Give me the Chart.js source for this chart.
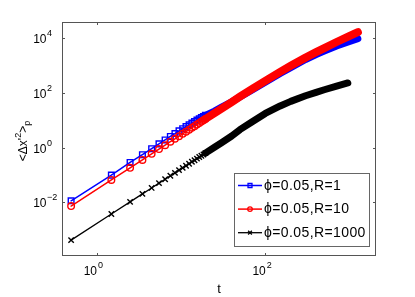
<!DOCTYPE html>
<html>
<head>
<meta charset="utf-8">
<script src="https://cdn.jsdelivr.net/npm/chart.js@4.4.1/dist/chart.umd.min.js"></script>
<style>
  html, body { margin: 0; padding: 0; background: #fff; }
  #wrap { width: 415px; height: 297px; position: relative; }
</style>
</head>
<body>
<div id="wrap"><canvas id="msd-chart"></canvas></div>
<script>
// time values (shared by R=1 and R=10), and the R=1000 run which stops earlier
const tTimes = [0.5, 1.5, 2.5, 3.5, 4.5, 5.5, 6.5, 7.5, 8.5, 9.5,
    10.5, 11.5, 12.5, 13.5, 14.5, 15.5, 16.5, 17.5, 18.5, 19.5,
    25, 30, 40, 50, 70, 100, 150, 200, 300, 400, 500, 700, 1000, 1250];
const tTimesBlack = [0.5, 1.5, 2.5, 3.5, 4.5, 5.5, 6.5, 7.5, 8.5, 9.5,
    10.5, 11.5, 12.5, 13.5, 14.5, 15.5, 16.5, 17.5, 18.5, 19.5,
    25, 30, 40, 50, 70, 100, 150, 200, 300, 400, 500, 700, 950];

const msdR1 = [0.0115, 0.10, 0.29, 0.56, 0.93, 1.39, 1.94, 2.59, 3.32, 4.15,
    5.0, 5.95, 6.95, 8.0, 9.1, 10.3, 11.5, 12.7, 14.0, 15.4,
    22, 30, 48, 72, 130, 250, 525, 860, 1700, 2580, 3450, 5290, 7800, 9800];
const msdR10 = [0.0074, 0.067, 0.185, 0.36, 0.6, 0.9, 1.25, 1.67, 2.14, 2.67,
    3.26, 3.9, 4.6, 5.4, 6.2, 7.1, 8.1, 9.1, 10.1, 11.3,
    18.5, 26.5, 47, 74, 143, 283, 600, 1000, 1990, 3150, 4450, 7400, 12400, 17000];
const msdR1000 = [0.00042, 0.0038, 0.0105, 0.0206, 0.034, 0.051, 0.071, 0.095, 0.121, 0.152,
    0.185, 0.22, 0.26, 0.31, 0.35, 0.40, 0.46, 0.51, 0.57, 0.64,
    1.05, 1.5, 2.7, 4.6, 9, 18, 34, 50, 80, 107, 133, 180, 235];

const seriesLabels = ['\u03d5=0.05,R=1', '\u03d5=0.05,R=10', '\u03d5=0.05,R=1000'];
const xTicks = [1, 100];
const yTicks = [1e-2, 1, 1e2, 1e4];

const FONT = '"Liberation Sans", Arial, Helvetica, sans-serif';

function toPoints(ts, ys) {
    return ts.map((t, i) => ({x: t, y: ys[i]}));
}

// thin line with markers while the points are sparse, thick band once they pile up
function makeSet(label, ts, ys, color, style, radius, lineW, bandW, order) {
    return {
        label: label,
        data: toPoints(ts, ys),
        borderColor: color,
        backgroundColor: color,
        borderWidth: lineW,
        borderCapStyle: 'round',
        borderJoinStyle: 'round',
        pointStyle: style,
        pointRadius: c => ts[c.dataIndex] > 20 ? 0 : radius,
        pointBorderWidth: 1.4,
        pointBorderColor: color,
        pointBackgroundColor: 'rgba(0,0,0,0)',
        segment: {
            borderWidth: c => c.p0.parsed.x >= 19 ? bandW : lineW
        },
        order: order,
        legendRadius: radius * 0.7,
        legendLine: lineW
    };
}

function expText(v) {
    const e = Math.round(Math.log10(v));
    return e < 0 ? '\u2212' + (-e) : String(e);
}

const matlabFrame = {
    id: 'matlabFrame',
    afterDatasetsDraw(chart) {
        const ctx = chart.ctx;
        const a = chart.chartArea;
        const xs = chart.scales.x, ys = chart.scales.y;
        ctx.save();

        // box
        ctx.strokeStyle = '#555';
        ctx.lineWidth = 1;
        ctx.strokeRect(a.left + 0.5, a.top + 0.5, a.right - a.left - 1, a.bottom - a.top - 1);

        // ticks, inward on all four sides
        ctx.beginPath();
        xTicks.forEach(v => {
            const px = Math.round(xs.getPixelForValue(v)) + 0.5;
            ctx.moveTo(px, a.bottom); ctx.lineTo(px, a.bottom - 3);
            ctx.moveTo(px, a.top); ctx.lineTo(px, a.top + 3);
        });
        yTicks.forEach(v => {
            const py = Math.round(ys.getPixelForValue(v)) + 0.5;
            ctx.moveTo(a.left, py); ctx.lineTo(a.left + 3, py);
            ctx.moveTo(a.right, py); ctx.lineTo(a.right - 3, py);
        });
        ctx.stroke();

        // tick labels 10^n
        ctx.fillStyle = '#000';
        ctx.textBaseline = 'alphabetic';
        xTicks.forEach(v => {
            const px = xs.getPixelForValue(v);
            ctx.font = '12px ' + FONT;
            ctx.textAlign = 'right';
            ctx.fillText('10', px + 0.5, a.bottom + 19);
            ctx.font = '9px ' + FONT;
            ctx.textAlign = 'left';
            ctx.fillText(expText(v), px + 1.5, a.bottom + 12);
        });
        yTicks.forEach(v => {
            const py = ys.getPixelForValue(v);
            ctx.font = '12px ' + FONT;
            ctx.textAlign = 'right';
            ctx.fillText('10', 46.5, py + 5);
            ctx.font = '9px ' + FONT;
            ctx.textAlign = 'left';
            ctx.fillText(expText(v), 47, py - 2);
        });

        // x title
        ctx.font = '13px ' + FONT;
        ctx.textAlign = 'center';
        ctx.fillText('t', (a.left + a.right) / 2, 293);

        // y title  <Δx'^2>_p  rotated
        const parts = [
            {t: '<\u0394x\'', size: 12, dy: 0},
            {t: '2', size: 9, dy: -6},
            {t: '>', size: 12, dy: 0},
            {t: 'p', size: 9, dy: 3}
        ];
        let total = 0;
        parts.forEach(p => { ctx.font = p.size + 'px ' + FONT; p.w = ctx.measureText(p.t).width; total += p.w; });
        ctx.translate(27, (a.top + a.bottom) / 2 + 2);
        ctx.rotate(-Math.PI / 2);
        ctx.textAlign = 'left';
        let cx = -total / 2;
        parts.forEach(p => {
            ctx.font = p.size + 'px ' + FONT;
            ctx.fillText(p.t, cx, p.dy);
            cx += p.w;
        });
        ctx.restore();

        // legend box
        ctx.save();
        const lx = 234.5, ly = 173.5, lw = 135, lh = 73;
        ctx.fillStyle = '#fff';
        ctx.fillRect(lx, ly, lw, lh);
        ctx.strokeStyle = '#666';
        ctx.lineWidth = 1;
        ctx.strokeRect(lx, ly, lw, lh);
        chart.data.datasets.forEach((ds, i) => {
            const cy = 185.5 + i * 23.6;
            ctx.strokeStyle = ds.borderColor;
            ctx.lineWidth = ds.legendLine;
            ctx.beginPath();
            ctx.moveTo(238, cy); ctx.lineTo(262, cy);
            ctx.stroke();
            ctx.fillStyle = 'rgba(0,0,0,0)';
            ctx.lineWidth = 1.3;
            Chart.helpers.drawPoint(ctx, {pointStyle: ds.pointStyle, radius: ds.legendRadius, rotation: 0, borderWidth: 1.3}, 250, cy);
            ctx.fillStyle = '#000';
            ctx.font = '14px ' + FONT;
            ctx.letterSpacing = '0.4px';
            ctx.textAlign = 'left';
            ctx.textBaseline = 'middle';
            ctx.fillText(seriesLabels[i], 264, cy + 0.5);
        });
        ctx.restore();
    }
};

function drawChart(canvas) {
    new Chart(canvas, {
        type: 'line',
        data: {
            datasets: [
                makeSet(seriesLabels[0], tTimes, msdR1, '#0000ff', 'rect', 4, 1.5, 7, 3),
                makeSet(seriesLabels[1], tTimes, msdR10, '#ff0000', 'circle', 3.3, 1.5, 8, 2),
                makeSet(seriesLabels[2], tTimesBlack, msdR1000, '#000000', 'crossRot', 3.8, 1.3, 7, 1)
            ]
        },
        options: {
            responsive: true,
            maintainAspectRatio: false,
            animation: false,
            layout: {padding: {left: 62, top: 22, right: 39, bottom: 41}},
            scales: {
                x: {type: 'logarithmic', min: 0.39, max: 2050, display: false},
                y: {type: 'logarithmic', min: 1.1e-4, max: 4e4, display: false}
            },
            plugins: {
                legend: {display: false},
                tooltip: {enabled: false}
            }
        },
        plugins: [matlabFrame]
    });
}

document.addEventListener('DOMContentLoaded', () => {
    drawChart(document.getElementById('msd-chart'));
});
</script>
</body>
</html>
